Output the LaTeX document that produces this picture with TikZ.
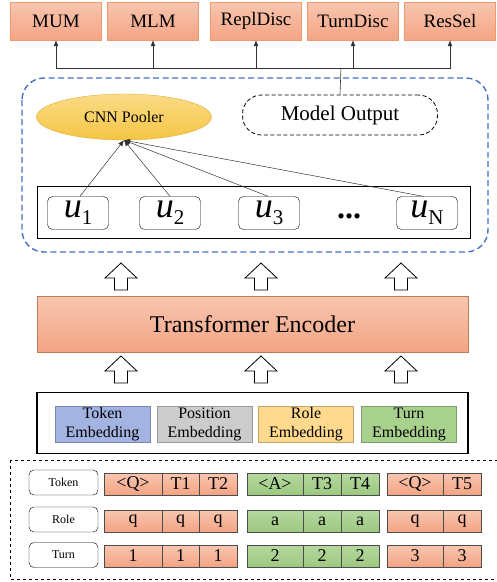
\documentclass[tikz,border=0pt]{standalone}
\usepackage{fontspec}
\setmainfont{Liberation Serif}
\usetikzlibrary{arrows.meta,shapes.geometric}

\definecolor{salmonA}{HTML}{F8C6B0}
\definecolor{salmonB}{HTML}{F4A484}
\definecolor{salmonline}{HTML}{EE9A6E}
\definecolor{greenA}{HTML}{B5D8A0}
\definecolor{greenB}{HTML}{9CC97F}
\definecolor{poolA}{HTML}{FADC86}
\definecolor{poolB}{HTML}{F5C444}
\definecolor{dashblue}{HTML}{4472C4}
\definecolor{tokfill}{HTML}{A3B3E2}
\definecolor{posfill}{HTML}{CCCCCC}
\definecolor{rolfill}{HTML}{FFD98E}
\definecolor{turfill}{HTML}{A9D18E}

\newcommand{\usub}[1]{\textit{u}\raisebox{-0.45ex}{\fontsize{21}{21}\selectfont #1}}

\begin{document}
\begin{tikzpicture}[x=1pt,y=-1pt,
    task/.style={draw=salmonline, top color=salmonA, bottom color=salmonB,
      minimum width=91pt, minimum height=38pt, inner sep=0pt, font=\fontsize{19}{21}\selectfont},
    ubox/.style={draw, rounded corners=5pt, minimum width=61pt, minimum height=33pt,
      inner sep=0pt, font=\fontsize{36}{36}\selectfont},
    emb/.style={draw=#1!75!black, fill=#1, minimum width=95pt, minimum height=36pt,
      inner sep=0pt, align=center, font=\fontsize{16}{19}\selectfont},
    lbl/.style={draw, rounded corners=5pt, minimum width=69pt, minimum height=25pt,
      inner sep=0pt, font=\fontsize{12}{14}\selectfont},
    oc/.style={draw=black!70, top color=salmonA, bottom color=salmonB,
      minimum height=22pt, inner sep=0pt, font=\fontsize{18}{18}\selectfont},
    gc/.style={draw=black!70, top color=greenA, bottom color=greenB,
      minimum height=22pt, inner sep=0pt, font=\fontsize{18}{18}\selectfont},
    hollow/.style={draw, fill=white, line width=0.8pt, line join=miter}]
  \useasboundingbox (0,0) rectangle (497,582);

  % tasks on top
  \path
    (56,21) node[task] (mum){MUM}
    (153,21) node[task] (mlm){MLM}
    (256,21) node[task] (repl){ReplDisc}
    (353,21) node[task] (turn){TurnDisc}
    (450,21) node[task] (ressel){ResSel};
  \coordinate (hub) at (341,68);

  % model output part
  \draw[dashblue, line width=1.4pt, dash pattern=on 6pt off 3.5pt, rounded corners=22pt]
    (22,78) rectangle (488,252);
  \node[ellipse, draw=poolB!90!black, top color=poolA, bottom color=poolB,
    inner sep=0pt, minimum width=175pt, minimum height=46pt, font=\fontsize{16}{18}\selectfont]
    (cnn) at (124,117) {CNN Pooler};
  \node[draw, dash pattern=on 4pt off 2.5pt, line width=0.8pt, rounded corners=19pt,
    minimum width=195pt, minimum height=40pt,
    font=\fontsize{21}{22}\selectfont] (out) at (340,115) {Model Output};
  \node[draw, line width=0.8pt, minimum width=433pt, minimum height=52pt] (seq) at (253.5,212) {};
  \path
    (78,213) node[ubox] (u1){\usub{1}}
    (170,213) node[ubox] (u2){\usub{2}}
    (269,213) node[ubox] (u3){\usub{3}}
    (349,216) node[font=\fontsize{32}{32}\selectfont\bfseries] (dots){...}
    (427,213) node[ubox] (uN){\usub{N}};

  \begin{scope}[-{Latex[length=6pt,width=5pt]}, black!80, line width=0.5pt]
    \draw ([xshift=2pt]u1.north) to (cnn.south);
    \draw (u2.north) to (cnn.south);
    \draw ([xshift=-1pt]u3.north) to (cnn.south);
    \draw ([xshift=-4pt]uN.north) to (cnn.south);
  \end{scope}

  \begin{scope}[-{Latex[length=6pt,width=5pt]}, black!80, line width=0.6pt]
    \draw[-] (out.north) to (hub);
    \draw (hub) -| (mum.south);
    \draw (hub) -| (mlm.south);
    \draw (hub) -| (repl.south);
    \draw (hub) -| (turn.south);
    \draw (hub) -| (ressel.south);
  \end{scope}

  % encoder
  \node[draw=salmonline!80!black, top color=salmonA, bottom color=salmonB,
    minimum width=431pt, minimum height=56pt, font=\fontsize{24}{26}\selectfont]
    (enc) at (252.5,324) {Transformer Encoder};

  \draw[hollow] (121,263) -- ++(16,15) -- ++(-9.5,0) -- ++(0,12) -- ++(-13,0) -- ++(0,-12) -- ++(-9.5,0) -- cycle;
  \draw[hollow] (261,263) -- ++(16,15) -- ++(-9.5,0) -- ++(0,12) -- ++(-13,0) -- ++(0,-12) -- ++(-9.5,0) -- cycle;
  \draw[hollow] (401,263) -- ++(16,15) -- ++(-9.5,0) -- ++(0,12) -- ++(-13,0) -- ++(0,-12) -- ++(-9.5,0) -- cycle;
  \draw[hollow] (121,356) -- ++(16,15) -- ++(-9.5,0) -- ++(0,12) -- ++(-13,0) -- ++(0,-12) -- ++(-9.5,0) -- cycle;
  \draw[hollow] (261,356) -- ++(16,15) -- ++(-9.5,0) -- ++(0,12) -- ++(-13,0) -- ++(0,-12) -- ++(-9.5,0) -- cycle;
  \draw[hollow] (401,356) -- ++(16,15) -- ++(-9.5,0) -- ++(0,12) -- ++(-13,0) -- ++(0,-12) -- ++(-9.5,0) -- cycle;

  % embeddings
  \node[draw, line width=1.6pt, minimum width=431pt, minimum height=61pt] (embs) at (252.5,423) {};
  \path
    (102.5,424) node[emb=tokfill] (tokemb){Token\\Embedding}
    (204.5,424) node[emb=posfill] (posemb){Position\\Embedding}
    (306,424) node[emb=rolfill] (rolemb){Role\\Embedding}
    (409,424) node[emb=turfill] (turemb){Turn\\Embedding};

  % input example
  \draw[dashed, line width=0.8pt] (10,460) rectangle (510,579);
  \path
    (63.5,482.5) node[lbl] (ltok){Token}
    (63.5,519.5) node[lbl] (lrol){Role}
    (63.5,555) node[lbl] (ltur){Turn};

  \path
    (133,484) node[oc, minimum width=58pt] (tk1){<Q>}
    (180.5,484) node[oc, minimum width=37pt] (tk2){T1}
    (218,484) node[oc, minimum width=38pt] (tk3){T2}
    (275,484) node[gc, minimum width=56pt] (tk4){<A>}
    (322,484) node[gc, minimum width=38pt] (tk5){T3}
    (360,484) node[gc, minimum width=38pt] (tk6){T4}
    (415,484) node[oc, minimum width=56pt] (tk7){<Q>}
    (462,484) node[oc, minimum width=38pt] (tk8){T5};
  \path
    (133,521) node[oc, minimum width=58pt] (ro1){q}
    (180.5,521) node[oc, minimum width=37pt] (ro2){q}
    (218,521) node[oc, minimum width=38pt] (ro3){q}
    (275,521) node[gc, minimum width=56pt] (ro4){a}
    (322,521) node[gc, minimum width=38pt] (ro5){a}
    (360,521) node[gc, minimum width=38pt] (ro6){a}
    (415,521) node[oc, minimum width=56pt] (ro7){q}
    (462,521) node[oc, minimum width=38pt] (ro8){q};
  \path
    (133,556) node[oc, minimum width=58pt] (tu1){1}
    (180.5,556) node[oc, minimum width=37pt] (tu2){1}
    (218,556) node[oc, minimum width=38pt] (tu3){1}
    (275,556) node[gc, minimum width=56pt] (tu4){2}
    (322,556) node[gc, minimum width=38pt] (tu5){2}
    (360,556) node[gc, minimum width=38pt] (tu6){2}
    (415,556) node[oc, minimum width=56pt] (tu7){3}
    (462,556) node[oc, minimum width=38pt] (tu8){3};
\end{tikzpicture}
\end{document}
